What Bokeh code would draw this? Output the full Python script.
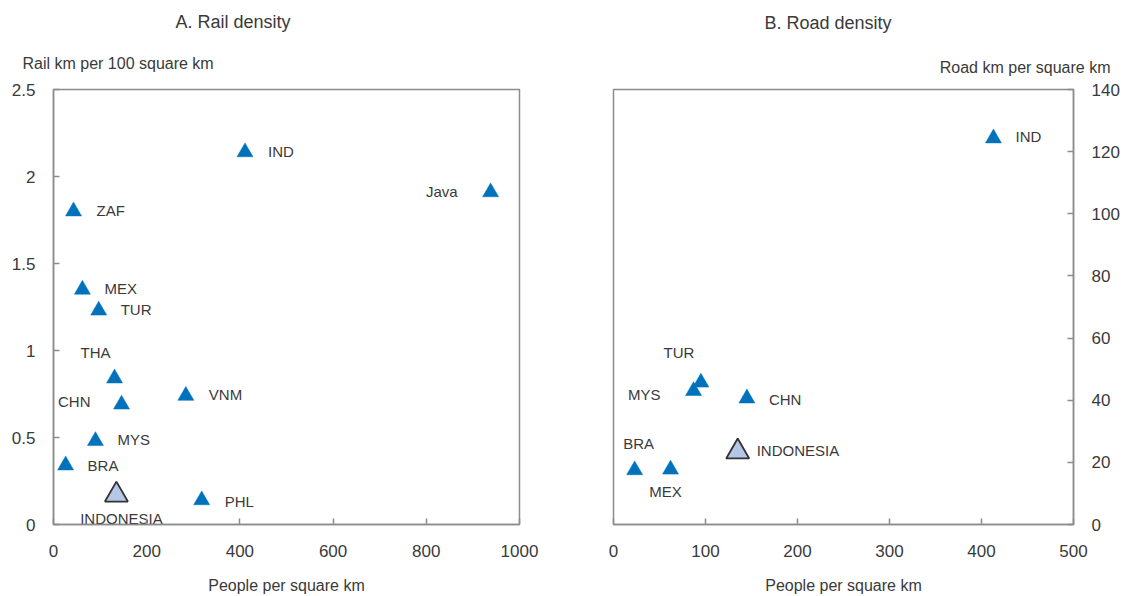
from bokeh.plotting import figure
from bokeh.layouts import row
from bokeh.models import ColumnDataSource, Title, FixedTicker, Range1d
from bokeh.core.properties import value
from bokeh.embed import file_html
from bokeh.resources import INLINE

FONT = "Liberation Sans"
TEXT = "#3a3a3a"
AXIS = "#8c8c8c"
BLUE = "#0072bc"
IDN_FILL = "#b4c7e7"
IDN_LINE = "#333333"

# Panel A: rail density
rail_names = ["IND", "Java", "ZAF", "MEX", "TUR", "THA", "CHN", "VNM", "MYS", "BRA", "PHL"]
rail_people = [411, 938, 43, 62, 97, 131, 146, 284, 90, 26, 318]
rail_km = [2.14, 1.91, 1.80, 1.35, 1.23, 0.84, 0.69, 0.74, 0.48, 0.34, 0.14]
rail_idn_people = [135]
rail_idn_km = [0.17]

# Panel B: road density
road_names = ["IND", "TUR", "MYS", "CHN", "BRA", "MEX"]
road_people = [413, 95, 87, 145, 23, 62]
road_km = [124.3, 45.7, 43.0, 40.6, 17.5, 17.7]
road_idn_people = [135]
road_idn_km = [23.4]

rail_xticks = [0, 200, 400, 600, 800, 1000]
rail_yticks = [0, 0.5, 1, 1.5, 2, 2.5]
road_xticks = [0, 100, 200, 300, 400, 500]
road_yticks = [0, 20, 40, 60, 80, 100, 120, 140]

# label placement (pixels relative to marker, align)
rail_lbl_dx = [23, -33, 23, 22, 22, -19, -31, 23, 22, 22, 23]
rail_lbl_dy = [-1, -1, -1, -1, -1, -26, -3, -1, -1, 0, 1]
rail_lbl_align = ["left", "right", "left", "left", "left", "center", "right",
                  "left", "left", "left", "left"]
road_lbl_dx = [22, -22, -33, 22, 4, -5]
road_lbl_dy = [-2, -30, 4, 1, -27, 22]
road_lbl_align = ["left", "center", "right", "left", "center", "center"]


def style(p, xticks, yticks):
    p.outline_line_color = AXIS
    p.outline_line_width = 1.5
    p.xgrid.visible = False
    p.ygrid.visible = False
    for ax in p.axis:
        ax.axis_line_color = AXIS
        ax.axis_line_width = 1.5
        ax.major_tick_line_color = AXIS
        ax.major_tick_line_width = 1.5
        ax.major_tick_in = 6
        ax.major_tick_out = 0
        ax.minor_tick_line_color = None
        ax.major_label_text_font = FONT
        ax.major_label_text_font_size = "17px"
        ax.major_label_text_color = TEXT
        ax.major_label_standoff = 18
    p.xaxis.ticker = FixedTicker(ticks=xticks)
    p.yaxis.ticker = FixedTicker(ticks=yticks)
    p.xaxis.major_label_standoff = 20
    p.xaxis.axis_label = "People per square km"
    p.xaxis.axis_label_text_font = FONT
    p.xaxis.axis_label_text_font_size = "16px"
    p.xaxis.axis_label_text_font_style = "normal"
    p.xaxis.axis_label_text_color = TEXT
    p.xaxis.axis_label_standoff = 17


def title(p, txt, size, align, offset, standoff):
    p.add_layout(Title(text=txt, text_font=FONT, text_font_size=size,
                       text_font_style="normal", text_color=TEXT,
                       align=align, offset=offset, standoff=standoff), "above")


def panel(width, yloc, xs, ys, names, ix, iy, dx, dy, al, xr, yr, xticks, yticks,
          min_left, min_right):
    p = figure(width=width, height=596, output_backend="svg", toolbar_location=None,
               x_range=Range1d(*xr), y_range=Range1d(*yr), y_axis_location=yloc,
               min_border_left=min_left, min_border_right=min_right,
               min_border_top=89, min_border_bottom=72)
    style(p, xticks, yticks)
    src = ColumnDataSource(dict(x=xs, y=ys, name=names, dx=dx, dy=dy, al=al))
    p.scatter("x", "y", source=src, marker="triangle", size=16,
              fill_color=BLUE, line_color=BLUE, line_width=0.5)
    p.scatter(ix, iy, marker="triangle", size=23, fill_color=IDN_FILL,
              line_color=IDN_LINE, line_width=1.8)
    p.text("x", "y", text="name", source=src, x_offset="dx", y_offset="dy",
           text_align="al", text_baseline="middle", text_font=value(FONT),
           text_font_size="15px", text_color=TEXT)
    return p


left = panel(560, "left", rail_people, rail_km, rail_names, rail_idn_people, rail_idn_km,
             rail_lbl_dx, rail_lbl_dy, rail_lbl_align, (0, 1000), (0, 2.5),
             rail_xticks, rail_yticks, 53, 41)
left.text(rail_idn_people, rail_idn_km, text=["INDONESIA"], x_offset=5, y_offset=24,
          text_align="center", text_baseline="middle", text_font=value(FONT),
          text_font_size="15px", text_color=TEXT)
title(left, "Rail km per 100 square km", "16px", "left", -31, 36)
title(left, "A. Rail density", "18px", "left", 122, 6)

right = panel(567, "right", road_people, road_km, road_names, road_idn_people, road_idn_km,
              road_lbl_dx, road_lbl_dy, road_lbl_align, (0, 500), (0, 140),
              road_xticks, road_yticks, 53, 54)
right.text(road_idn_people, road_idn_km, text=["INDONESIA"], x_offset=19, y_offset=-1,
           text_align="left", text_baseline="middle", text_font=value(FONT),
           text_font_size="15px", text_color=TEXT)
title(right, "Road km per square km", "16px", "right", -37, 28)
title(right, "B. Road density", "18px", "left", 151, 19)

layout = row(left, right)
open("out.html", "w").write(file_html(layout, INLINE))
